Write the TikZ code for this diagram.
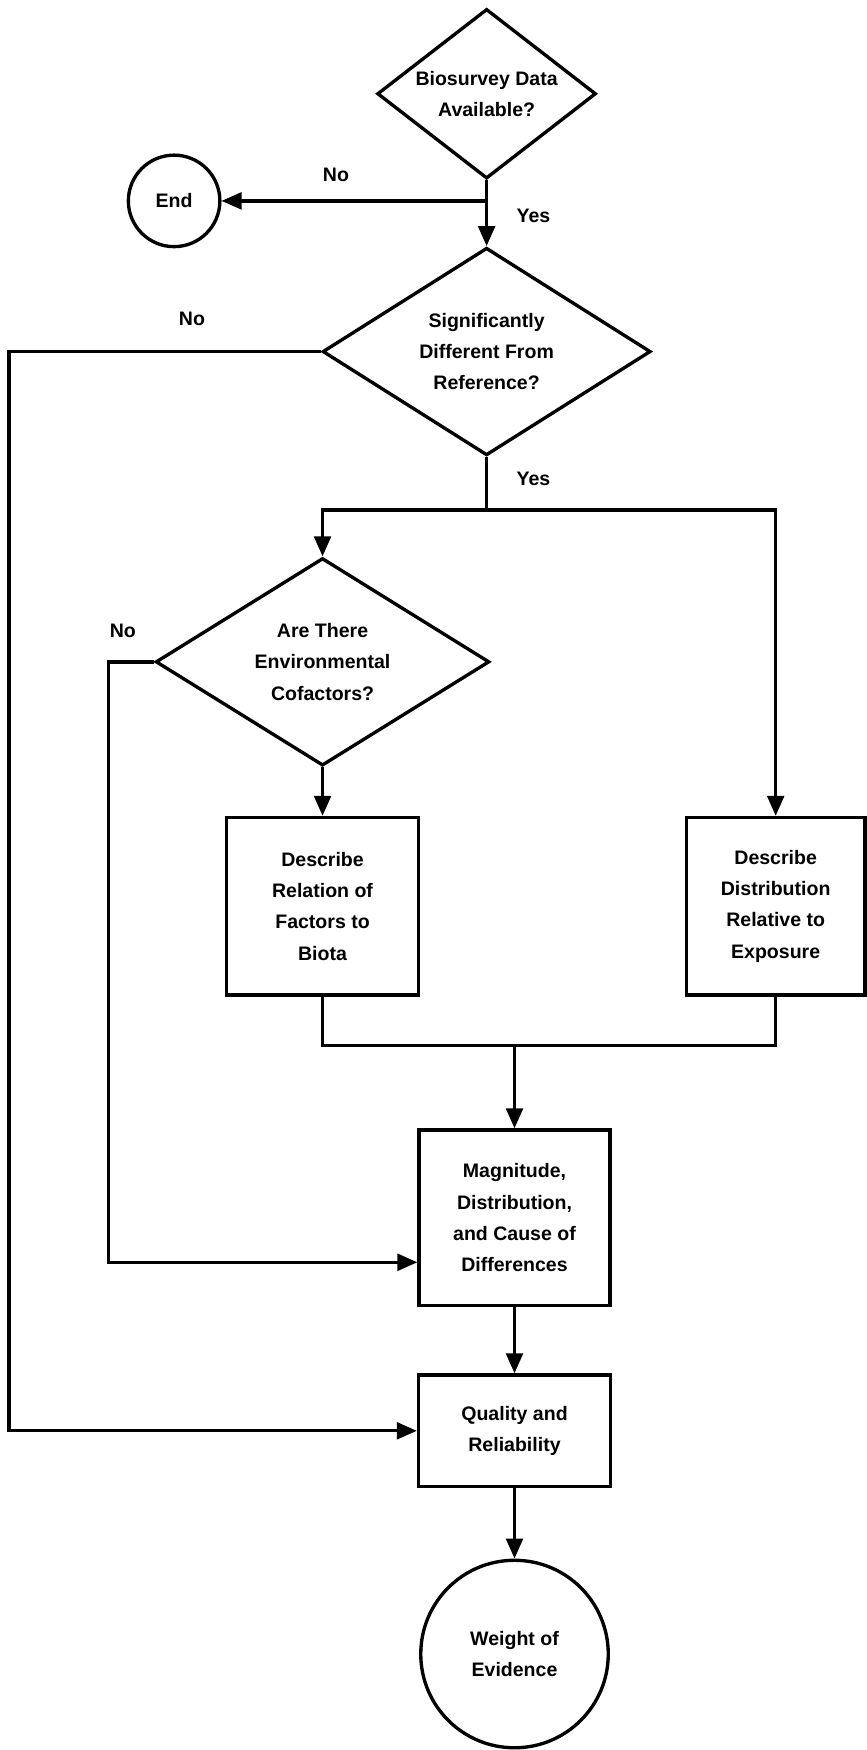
\documentclass[tikz,border=0pt]{standalone}
\usepackage{fontspec}
\setmainfont{Liberation Sans}
\usetikzlibrary{shapes.geometric,arrows.meta}
\tikzset{
  decision/.style={diamond,draw,line width=3pt,inner sep=0pt,aspect=1.5},
  stepbox/.style={rectangle,draw,line width=3pt,inner sep=0pt},
  terminal/.style={circle,draw,line width=3pt,inner sep=0pt},
  link/.style={line width=3pt},
  flow/.style={line width=3pt,-{Triangle[length=18pt,width=15pt]}},
}
\begin{document}
\begin{tikzpicture}[x=1pt,y=-1pt,every node/.style={font=\fontsize{17.5}{28}\selectfont\bfseries,align=center}]
        \useasboundingbox (0,0) rectangle (776,1568);
        \node[decision,minimum width=196pt,minimum height=152pt] (bio) at (436,84) {Biosurvey Data\\Available?};
        \node[terminal,minimum size=82pt] (end) at (156,180) {End};
        \node[decision,minimum width=294pt,minimum height=186pt] (sig) at (436,315) {Significantly\\Different From\\Reference?};
        \node[decision,minimum width=299pt,minimum height=186pt] (env) at (289,593) {Are There\\Environmental\\Cofactors?};
        \node[stepbox,minimum width=172pt,minimum height=159pt] (rel) at (289,812) {Describe\\Relation of\\Factors to\\Biota};
        \node[stepbox,minimum width=160pt,minimum height=159pt] (dist) at (695,812) {Describe\\Distribution\\Relative to\\Exposure};
        \node[stepbox,minimum width=171pt,minimum height=157pt] (mag) at (461,1091) {Magnitude,\\Distribution,\\and Cause of\\Differences};
        \node[stepbox,minimum width=172pt,minimum height=100pt] (qual) at (461,1282) {Quality and\\Reliability};
        \node[terminal,minimum size=168pt] (woe) at (461,1482) {Weight of\\Evidence};
        \node (no1) at (301,157) {No};
        \node (yes1) at (478,193) {Yes};
        \node (no2) at (172,286) {No};
        \node (yes2) at (478,429) {Yes};
        \node (no3) at (110,565) {No};
        \coordinate (fork) at (436,457);
        \coordinate (join) at (461,937);
        \coordinate (farleft) at (8,1282);
        \coordinate (envleft) at (97,1131);
        \draw[flow] (bio.south) -- (sig.north);
        \draw[flow] (bio.south |- end) -- (end.east);
        \draw[flow] (sig.west) -| (farleft) -- (qual.west);
        \draw[link] (sig.south) -- (fork);
        \draw[flow] (fork) -| (env.north);
        \draw[flow] (fork) -| (dist.north);
        \draw[flow] (env.south) -- (rel.north);
        \draw[flow] (env.west) -| (envleft) -- (envleft -| mag.west);
        \draw[link] (rel.south) |- (dist.south |- join) -- (dist.south);
        \draw[flow] (join) -- (mag.north);
        \draw[flow] (mag.south) -- (qual.north);
        \draw[flow] (qual.south) -- (woe.north);
    \end{tikzpicture}
\end{document}
